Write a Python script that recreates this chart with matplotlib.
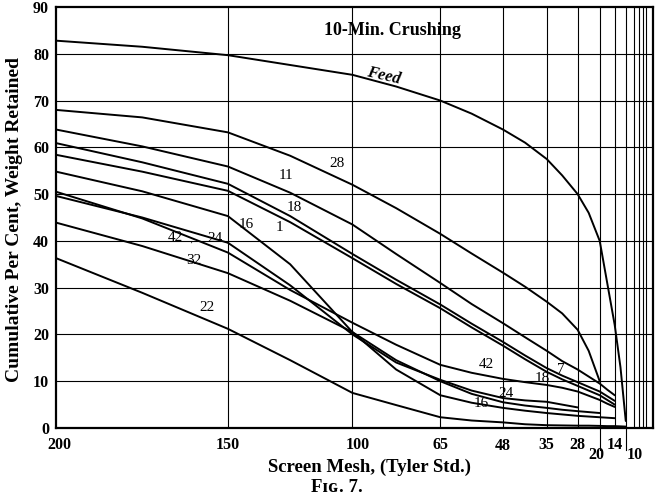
"""
Screen analysis after 10-min. crushing, cumulative per cent retained
on Tyler standard screens (Fig. 7).
"""
import matplotlib
matplotlib.use("Agg")

import matplotlib.pyplot as plt
import matplotlib.transforms as mtransforms

SERIF = ["Liberation Serif", "DejaVu Serif"]

# Tyler standard sieves: mesh and clear opening in mm
MESH = [200, 150, 100, 65, 48, 35, 28, 20, 14, 10]
OPENING_MM = [0.074, 0.104, 0.147, 0.208, 0.295, 0.417, 0.589, 0.833, 1.168, 1.651]
# coarser sieves (8, 6, 4, 3 mesh) only drawn as grid lines
EXTRA_OPENING_MM = [2.362, 3.327, 4.699, 6.680]

# points where the curves were read, in 1/mm (the sieves and half-way between)
READ_X = [13.51, 11.56, 9.62, 8.21, 6.80, 5.81, 4.81, 4.10, 3.39, 2.89,
          2.40, 2.05, 1.70, 1.45, 1.20, 1.03, 0.86, 0.73, 0.61]

# cumulative per cent retained at READ_X (shorter lists end before 10 mesh)
feed = [82.8, 81.5, 79.7, 77.6, 75.5, 73.0, 70.0, 67.2, 63.8, 61.0,
        57.5, 54.0, 50.0, 46.0, 40.0, 31.0, 22.0, 13.0, 1.5]
prod_28 = [68.0, 66.4, 63.2, 58.2, 52.0, 47.0, 41.5, 37.3, 33.2, 30.2,
           27.0, 24.5, 21.0, 16.5, 10.0]
prod_11 = [63.8, 60.2, 55.9, 50.3, 43.5, 37.2, 31.0, 26.5, 22.4, 19.4,
           16.5, 14.3, 12.5, 11.0, 9.5, 8.2, 7.0]
prod_18 = [60.9, 56.8, 52.2, 45.3, 37.2, 31.7, 26.4, 22.3, 18.4, 15.5,
           12.8, 11.2, 9.8, 8.8, 7.8, 6.8, 5.8]
prod_1 = [58.4, 54.8, 50.7, 44.0, 36.3, 30.8, 25.6, 21.5, 17.6, 14.7,
          12.0, 10.4, 9.0, 8.0, 7.0, 6.0, 5.0]
prod_16 = [54.8, 50.6, 45.3, 35.0, 20.5, 12.5, 7.0, 5.4, 4.3, 3.7,
           3.2, 2.9, 2.6, 2.45, 2.3, 2.2, 2.1]
prod_42 = [50.5, 44.8, 37.5, 29.5, 22.5, 17.8, 13.5, 11.8, 10.5, 9.8,
           9.2, 8.6, 7.8, 6.9, 6.0, 5.2, 4.5]
prod_24 = [49.6, 45.0, 39.6, 30.5, 20.0, 14.0, 10.3, 8.0, 6.4, 5.9,
           5.6, 5.0, 4.4]
prod_32 = [43.9, 38.9, 33.1, 27.2, 20.5, 14.5, 10.0, 7.3, 5.5, 4.8,
           4.3, 3.9, 3.6, 3.4, 3.2]
prod_22 = [36.3, 28.9, 21.2, 14.5, 7.5, 4.9, 2.3, 1.6, 1.2, 0.8,
           0.6, 0.55, 0.5, 0.5, 0.45, 0.4, 0.4, 0.35, 0.3]

curves = [feed, prod_28, prod_11, prod_18, prod_1, prod_16,
          prod_42, prod_24, prod_32, prod_22]

# the screen scale is laid out linear in 1/opening
x_sieve = [1.0 / d for d in OPENING_MM]
x_extra = [1.0 / d for d in EXTRA_OPENING_MM]

fig = plt.figure(figsize=(6.55, 4.99), dpi=100)
fig.patch.set_facecolor("white")
ax = fig.add_axes([56 / 655, 1 - 428 / 499, 596.7 / 655, 421 / 499])

ax.set_xlim(x_sieve[0], 0)
ax.set_ylim(0, 90)

# grid
for xv in x_sieve[1:] + x_extra:
    ax.axvline(xv, color="black", lw=0.8, zorder=1)
for yv in range(10, 90, 10):
    ax.axhline(yv, color="black", lw=0.8, zorder=1)

for c in curves:
    ax.plot(READ_X[:len(c)], c, color="black", lw=1.4,
            solid_joinstyle="round", solid_capstyle="round", zorder=3)

for s in ax.spines.values():
    s.set_linewidth(1.6)

ax.set_yticks(range(0, 91, 10))
ax.set_yticklabels([str(v) for v in range(0, 91, 10)],
                   family=SERIF, fontweight="bold", fontsize=11.5)
ax.tick_params(axis="y", length=0, pad=5)
ax.set_xticks([])

# x tick labels (20 and 10 dropped down with a lead line)
blend = mtransforms.blended_transform_factory(ax.transData, ax.transAxes)
xlab_dx = [3, 0, 5, 0, 0, 0, 0, -3, 0, 9]
xlab_dy = [-17, -17, -17, -17, -18, -17, -17, -27, -17, -27]
for m, xv, dx, dy in zip(MESH, x_sieve, xlab_dx, xlab_dy):
    tr = mtransforms.offset_copy(blend, fig=fig, x=dx, y=dy, units="dots")
    ax.text(xv, 0, str(m), transform=tr, ha="center", va="center",
            family=SERIF, fontweight="bold", fontsize=11.5)
for m, xv in zip(MESH, x_sieve):
    if m in (20, 10):
        ax.plot([xv, xv], [0, -22 / 421], transform=blend, color="black",
                lw=0.8, clip_on=False)

ax.set_xlabel("Screen Mesh, (Tyler Std.)", family=SERIF, fontweight="bold",
              fontsize=13.5, va="center")
ax.xaxis.set_label_coords(0.526, -0.093)
ax.set_ylabel("Cumulative Per Cent, Weight Retained", family=SERIF,
              fontweight="bold", fontsize=14)
ax.yaxis.set_label_coords(-0.056, 0.495)

fig.text(337 / 655, 1 - 488 / 499, "F\u026a\u0262. 7.", family=SERIF,
         fontsize=13.5, fontweight="bold", ha="center", va="center")

ax.text(5.90, 84.9, "10-Min. Crushing", family=SERIF, fontweight="bold",
        fontsize=13, ha="center", va="center")
ax.text(6.10, 75.3, "Feed", family=SERIF, fontweight="bold", style="italic",
        fontsize=12, rotation=-13, ha="center", va="center")

curve_labels = [
    ("28", 7.14, 56.6), ("11", 8.30, 53.9), ("18", 8.12, 47.2),
    ("1", 8.46, 42.8), ("16", 9.21, 43.4), ("32", 10.39, 35.9),
    ("22", 10.09, 25.7), ("42", 3.76, 13.5), ("18", 2.49, 10.5),
    ("7", 2.08, 12.6), ("24", 3.33, 7.3), ("16", 3.88, 5.3),
]
for txt, xv, yv in curve_labels:
    ax.text(xv, yv, txt, family=SERIF, fontsize=11, ha="center",
            va="center", zorder=4)

# labels with short lead lines
ax.annotate("42", xy=(10.44, 39.6), xytext=(10.80, 40.8), family=SERIF,
            fontsize=11, ha="center", va="center",
            arrowprops=dict(arrowstyle="-", lw=0.7, shrinkA=4, shrinkB=0))
ax.annotate("24", xy=(9.62, 39.6), xytext=(9.92, 40.6), family=SERIF,
            fontsize=11, ha="center", va="center",
            arrowprops=dict(arrowstyle="-", lw=0.7, shrinkA=4, shrinkB=0))

fig.savefig("out.png", dpi=100, facecolor="white")
